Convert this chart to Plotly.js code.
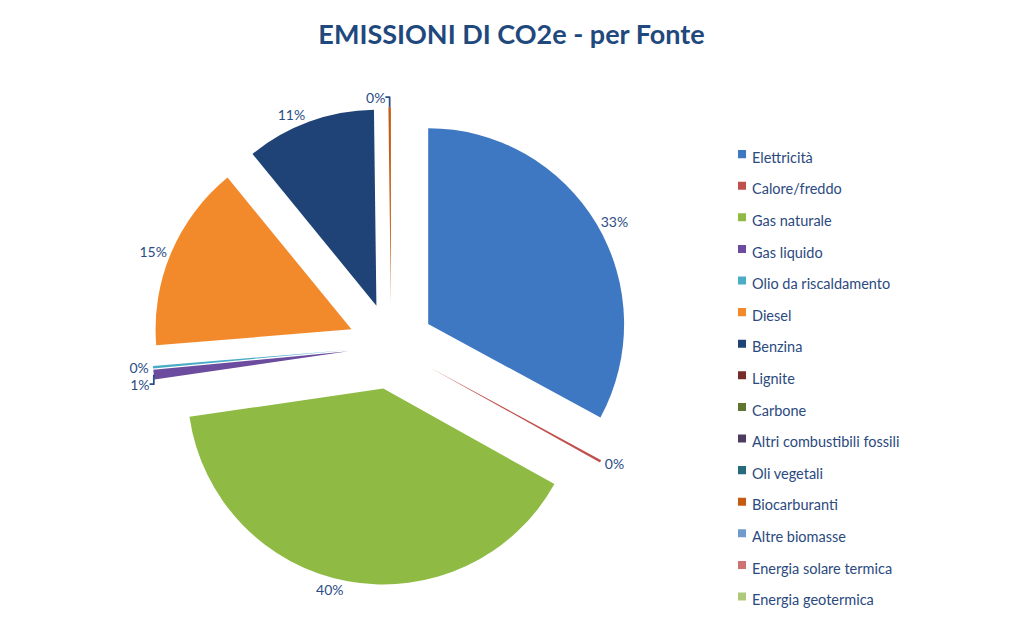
<!DOCTYPE html>
<html>
<head>
<meta charset="utf-8">
<script src="https://cdn.plot.ly/plotly-3.0.1.min.js"></script>
<style>
html,body{margin:0;padding:0;background:#fff;}
#chart{width:1023px;height:626px;}
#chart .legendpoints path{transform:translate(30px,0px) scale(0.67);}
</style>
</head>
<body>
<div id="chart"></div>
<script>
// Data (percent shares)
const categories = [
  "Elettricità", "Calore/freddo", "Gas naturale", "Gas liquido",
  "Olio da riscaldamento", "Diesel", "Benzina", "Lignite", "Carbone",
  "Altri combustibili fossili", "Oli vegetali", "Biocarburanti",
  "Altre biomasse", "Energia solare termica", "Energia geotermica"
];
const shares = [32.9, 0.2, 39.6, 0.8, 0.2, 15.4, 10.7, 0, 0, 0, 0, 0.2, 0, 0, 0];
const sliceColors = [
  "#3f78c2", "#c0504d", "#8fbb45", "#6b4c9e", "#4bacc6", "#f28a2c",
  "#1f4377", "#772c2a", "#5f7530", "#4d3b62", "#276a7c", "#c55a11",
  "#729aca", "#cd7371", "#afc97a"
];

const legendLabels = categories.map(c => '<span style="font-size:14.5px">' + c + '</span>');
// zero-value entries: their labels coincide at one spot in the original, show one
const labelTemplates = shares.map(v => v > 0 ? "%{percent:.0%}" : "");

const trace = {
  type: "pie",
  labels: legendLabels,
  values: shares,
  sort: false,
  direction: "clockwise",
  rotation: 0,
  pull: shares.map(() => 0.22),
  marker: { colors: sliceColors, line: { width: 0 } },
  textposition: "outside",
  texttemplate: labelTemplates,
  textfont: { family: "Lato, 'Open Sans', sans-serif", size: 14, color: "#2c4d85" },
  domain: { x: [0.1487, 0.616], y: [0.065, 0.829] },
  hoverinfo: "label+percent"
};

const layout = {
  width: 1023, height: 626,
  margin: { l: 0, r: 0, t: 0, b: 0 },
  paper_bgcolor: "#ffffff",
  title: {
    text: "<b>EMISSIONI DI CO2e - per Fonte</b>",
    font: { family: "Lato, 'Open Sans', sans-serif", size: 27, color: "#1f497d" },
    x: 0.5, xanchor: "center", y: 0.945, yanchor: "middle", yref: "container"
  },
  showlegend: true,
  legend: {
    x: 0.696, y: 0.787, xanchor: "left", yanchor: "top",
    font: { family: "Lato, 'Open Sans', sans-serif", size: 22, color: "#2b4a7e" },
    bgcolor: "rgba(0,0,0,0)"
  }
};

Plotly.newPlot("chart", [trace], layout, { displayModeBar: false });
</script>
</body>
</html>
